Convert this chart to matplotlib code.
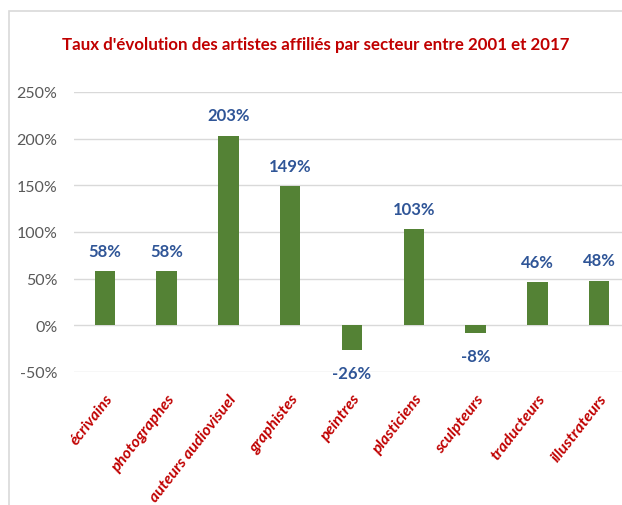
import matplotlib.pyplot as plt
from matplotlib.patches import Rectangle

secteurs = ["écrivains", "photographes", "auteurs audiovisuel", "graphistes",
            "peintres", "plasticiens", "sculpteurs", "traducteurs", "illustrateurs"]
evolution = [58, 58, 203, 149, -26, 103, -8, 46, 48]
graduations = [-50, 0, 50, 100, 150, 200, 250]

plt.rcParams["font.family"] = ["Lato", "DejaVu Sans"]

fig = plt.figure(figsize=(6.22, 5.06), dpi=100)
fig.patch.set_facecolor("white")

# cadre gris clair autour du graphique
fig.patches.append(Rectangle((9 / 622, -0.1), 1.2, 1.1 - 12 / 506,
                             transform=fig.transFigure, fill=False,
                             edgecolor="#D9D9D9", linewidth=1.2))

ax = fig.add_axes([74 / 622, 1 - 373 / 506, 556 / 622, 280 / 506])
x = range(len(secteurs))
ax.bar(x, evolution, width=0.33, color="#548235", zorder=3)

ax.set_xlim(-0.5, len(secteurs) - 0.5)
ax.set_ylim(-50, 250)
ax.set_yticks(graduations)
ax.set_yticklabels([f"{v}%" for v in graduations], color="#595959", fontsize=11.5)
ax.yaxis.grid(True, color="#D9D9D9", linewidth=1, zorder=0)
ax.tick_params(length=0, pad=12)
for s in ax.spines.values():
    s.set_visible(False)

ax.set_xticks(list(x))
ax.set_xticklabels(secteurs, rotation=52, ha="right", va="top",
                   rotation_mode="anchor", color="#C00000",
                   fontsize=11.5, fontweight="bold", fontstyle="italic")
ax.tick_params(axis="x", pad=14)

for i, v in enumerate(evolution):
    if v >= 0:
        ax.annotate(f"{v}%", (i, v), xytext=(0, 9), textcoords="offset points",
                    ha="center", va="bottom", color="#2F5597",
                    fontsize=12, fontweight="bold")
    else:
        ax.annotate(f"{v}%", (i, v), xytext=(0, -11), textcoords="offset points",
                    ha="center", va="top", color="#2F5597",
                    fontsize=12, fontweight="bold")

fig.text(316 / 622, 1 - 45 / 506,
         "Taux d'évolution des artistes affiliés par secteur entre 2001 et 2017",
         ha="center", va="center", color="#C00000", fontsize=12.2, fontweight="bold")

fig.savefig("out.png", dpi=100)
